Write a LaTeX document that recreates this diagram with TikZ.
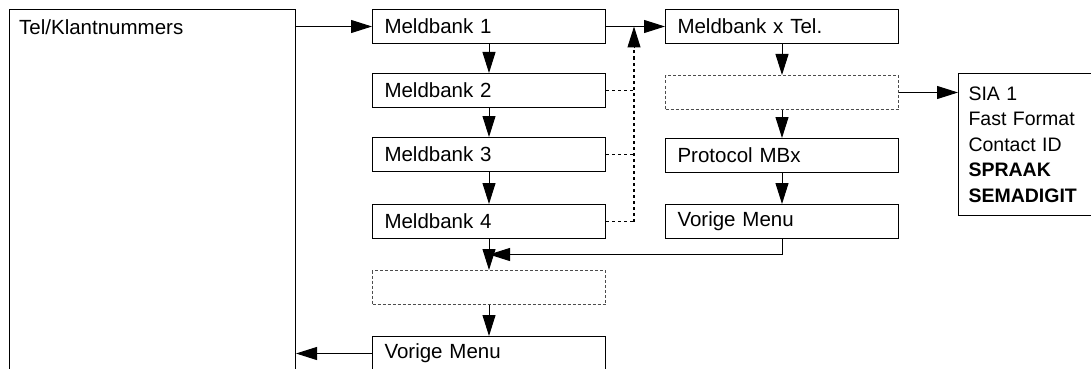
\documentclass[tikz,border=0pt]{standalone}
\usepackage{fontspec}
\setmainfont{Liberation Sans}
\usetikzlibrary{arrows.meta,calc}

\tikzset{
  menu/.style={draw, line width=1pt, anchor=north west, minimum height=34pt,
    text width=209pt, inner xsep=12pt, inner ysep=0pt, align=left},
  leeg/.style={menu, dash pattern=on 3pt off 2pt, draw=black!70},
  pijl/.style={line width=1pt, -{Triangle[length=21pt, width=13pt]}},
  stip/.style={line width=1.5pt, dash pattern=on 3pt off 3pt}
}

\begin{document}
\begin{tikzpicture}[x=1pt, y=-1pt, font=\fontsize{20.5}{24}\selectfont]
                \clip (0,0) rectangle (1091,369);

                % Klantnummers
                \node[draw, line width=1pt, anchor=north west, minimum width=286pt,
                  minimum height=420pt] (klant) at (9,9) {};
                \node[anchor=west, inner sep=0pt] (klanttxt) at (19,27) {Tel/Klantnummers};

                % Meldbanken
                \node[menu] (mb1) at (372,9) {Meldbank 1};
                \node[menu] (mb2) at (372,73) {Meldbank 2};
                \node[menu] (mb3) at (372,137) {Meldbank 3};
                \node[menu] (mb4) at (372,204) {Meldbank 4};
                \node[leeg] (leeg1) at (372,270) {};
                \node[menu] (vorige1) at (372,336) {Vorige Menu};

                % Meldbank x
                \node[menu] (mbx) at (665,9) {Meldbank x Tel.};
                \node[leeg] (leeg2) at (665,75) {};
                \node[menu] (prot) at (665,138) {Protocol MBx};
                \node[menu] (vorige2) at (665,204) {Vorige Menu};

                % Protocollen
                \node[draw, line width=1pt, anchor=north west, minimum width=132pt,
                  minimum height=142pt, text width=122pt, inner xsep=10pt, align=left,
                  font=\fontsize{19.5}{25.5}\selectfont] (sia) at (958,73)
                  {SIA 1\\Fast Format\\Contact ID\\\textbf{SPRAAK}\\\textbf{SEMADIGIT}};

                % Pijlen
                \draw[pijl] (mb1.west -| klant.east) -- (mb1.west);
                \draw[pijl] (vorige1.west) -- (vorige1.west -| klant.east);
                \draw[pijl] (mb1) -- (mb2);
                \draw[pijl] (mb2) -- (mb3);
                \draw[pijl] (mb3) -- (mb4);
                \draw[pijl] (mb4) -- (leeg1);
                \draw[pijl] (leeg1) -- (vorige1);
                \draw[pijl] (mb1) -- (mbx);
                \draw[pijl] (mbx) -- (leeg2);
                \draw[pijl] (leeg2) -- (prot);
                \draw[pijl] (prot) -- (vorige2);
                \draw[pijl] (leeg2.east) -- (leeg2.east -| sia.west);
                \draw[pijl] (vorige2.south) |- ($(mb4.south)!.5!(leeg1.north)$);

                % Stippellijnen
                \coordinate (hoek) at ($(mb4.east)+(28,0)$);
                \draw[stip] (mb4.east) -- (hoek);
                \draw[stip] (mb2.east) -- (mb2.east -| hoek);
                \draw[stip] (mb3.east) -- (mb3.east -| hoek);
                \draw[stip] (hoek) -- ($(hoek |- mb1.east)+(0,22)$) coordinate (top);
                \draw[pijl] (top) -- (hoek |- mb1.east);
            \end{tikzpicture}
\end{document}
